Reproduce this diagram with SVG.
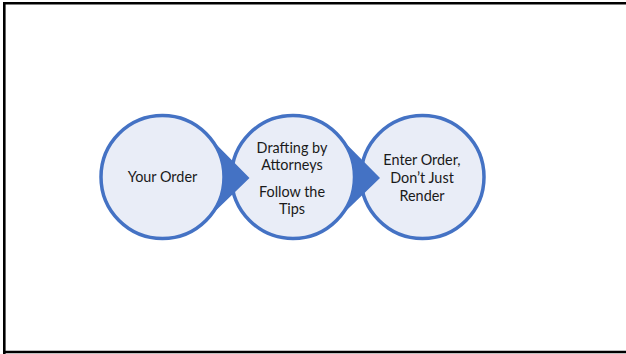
<svg xmlns="http://www.w3.org/2000/svg" width="626" height="354" viewBox="0 0 626 354">
<style>
.c{fill:#E9EDF7;stroke:#4472C4;stroke-width:3.5}
.w{fill:#4472C4;stroke:none}
.t{font-family:Lato,"Liberation Sans",sans-serif;font-size:14.4px;fill:#1a1a1a;text-anchor:middle}
</style>
<rect x="0" y="0" width="626" height="354" fill="#fff"/>
<path d="M4.3,354 V3.3 H640 M4.3,352 H640" fill="none" stroke="#000" stroke-width="2.6"/>
<g id="node1"><circle class="c" cx="162.5" cy="177" r="61.5"/></g>
<g id="node2"><circle class="c" cx="293" cy="177" r="61.5"/></g>
<g id="node3"><circle class="c" cx="422.5" cy="177" r="61.5"/></g>
<g id="connectors">
<path class="w" d="M205,133 L249.5,178 L205,221 A61.5,61.5 0 0 0 205,133 Z"/>
<path class="w" d="M335.5,133 L380,178 L335.5,221 A61.5,61.5 0 0 0 335.5,133 Z"/>
</g>
<g class="t">
<text x="162.5" y="181.7">Your Order</text>
<text x="292" y="152.5">Drafting by</text>
<text x="292" y="170.3">Attorneys</text>
<text x="292" y="196.5">Follow the</text>
<text x="292" y="213.5">Tips</text>
<text x="422" y="165">Enter Order,</text>
<text x="422" y="182.7">Don’t Just</text>
<text x="422" y="200.7">Render</text>
</g>
</svg>
